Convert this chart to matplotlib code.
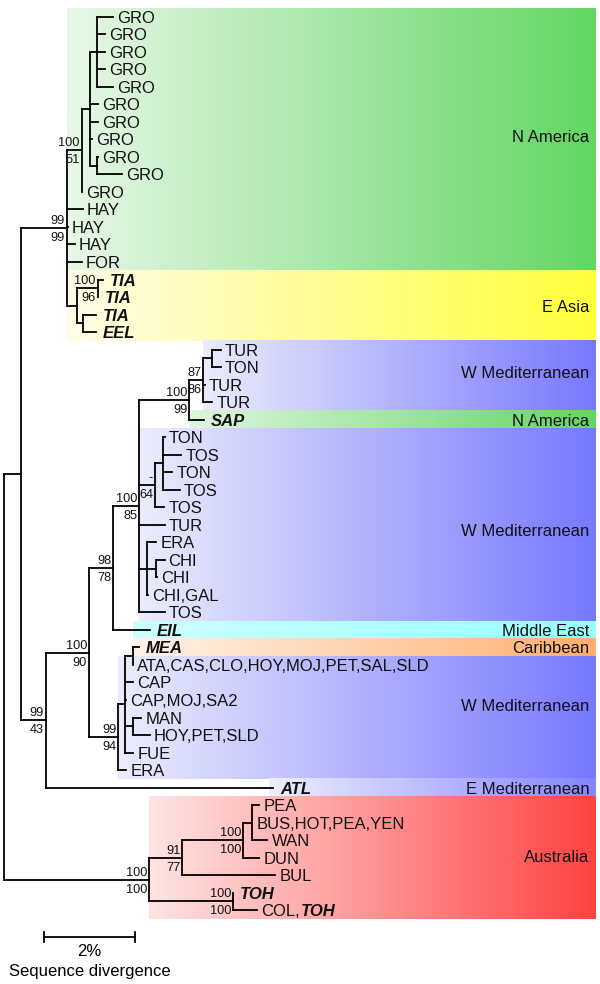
"""Phylogram with coloured geographic bands (recreated)."""
import re

import matplotlib
matplotlib.use("Agg")
import matplotlib.pyplot as plt
import numpy as np
from matplotlib.collections import LineCollection
from matplotlib.colors import to_rgb

plt.rcParams["font.family"] = ["Liberation Sans", "DejaVu Sans"]


def node(length, support, *kids):
    return {"len": length, "sup": support, "kids": list(kids)}


def leaf(name, length):
    # parts between *...* are drawn bold italic
    return {"len": length, "name": name}


# branch lengths in % sequence divergence, supports as (above, below)
tree = node(0, None,
    node(0.37, None,
        node(1.01, ("99", "99"),
            node(0.33, ("100", "51"),
                node(0.18, None,
                    node(0.15, None,
                         leaf("GRO", 0.35), leaf("GRO", 0.18), leaf("GRO", 0.18),
                         leaf("GRO", 0.18), leaf("GRO", 0.35)),
                    leaf("GRO", 0.18), leaf("GRO", 0.18), leaf("GRO", 0.04),
                    node(0.15, None, leaf("GRO", 0.02), leaf("GRO", 0.55))),
                leaf("GRO", 0.0)),
            leaf("HAY", 0.35), leaf("HAY", 0.02), leaf("HAY", 0.18), leaf("FOR", 0.33),
            node(0.22, None,
                node(0.46, ("100", "96"), leaf("*TIA*", 0.11), leaf("*TIA*", 0.0)),
                node(0.13, None, leaf("*TIA*", 0.29), leaf("*EEL*", 0.29)))),
        node(0.55, ("99", "43"),
            node(0.95, ("100", "90"),
                node(0.53, ("98", "78"),
                    node(0.57, ("100", "85"),
                        node(1.10, ("100", "99"),
                            node(0.31, ("87", "86"),
                                node(0.20, None, leaf("TUR", 0.18), leaf("TON", 0.18)),
                                leaf("TUR", 0.04), leaf("TUR", 0.20)),
                            leaf("*SAP*", 0.33)),
                        node(0.35, ("-", "64"),
                            node(0.18, None, leaf("TON", 0.04), leaf("TOS", 0.40),
                                 leaf("TON", 0.20), leaf("TOS", 0.37)),
                            leaf("TOS", 0.20)),
                        leaf("TUR", 0.57),
                        node(0.18, None,
                            leaf("ERA", 0.20),
                            node(0.18, None, leaf("CHI", 0.20), leaf("CHI", 0.04)),
                            leaf("CHI,GAL", 0.02)),
                        leaf("TOS", 0.57)),
                    leaf("*EIL*", 0.81)),
                node(0.64, ("99", "94"),
                    node(0.15, None,
                        node(0.18, None, leaf("*MEA*", 0.13),
                             leaf("ATA,CAS,CLO,HOY,MOJ,PET,SAL,SLD", 0.0)),
                        leaf("CAP", 0.18), leaf("CAP,MOJ,SA2", 0.02),
                        node(0.18, None, leaf("MAN", 0.18), leaf("HOY,PET,SLD", 0.37)),
                        leaf("FUE", 0.18)),
                    leaf("ERA", 0.18))),
            leaf("*ATL*", 4.99))),
    node(3.19, ("100", "100"),
        node(0.73, ("91", "77"),
            node(1.34, ("100", "100"),
                node(0.20, None, leaf("PEA", 0.15), leaf("BUS,HOT,PEA,YEN", 0.0),
                     leaf("WAN", 0.33)),
                leaf("DUN", 0.35)),
            leaf("BUL", 2.04)),
        node(1.85, ("100", "100"),
            leaf("*TOH*", 0.0), leaf("COL,*TOH*", 0.53))))

# geographic bands: leaf rows covered, start (% divergence), label row, colours
band_names = ["N America", "E Asia", "W Mediterranean", "N America", "W Mediterranean",
              "Middle East", "Caribbean", "W Mediterranean", "E Mediterranean", "Australia"]
band_rows = [(0, 14), (15, 18), (19, 22), (23, 23), (24, 34),
             (35, 35), (36, 36), (37, 43), (44, 44), (45, 51)]
band_start = [1.38, 1.38, 4.37, 4.07, 2.97, 2.84, 2.84, 2.51, 5.82, 3.19]
band_label_row = [6.8, 16.5, 20.3, 23, 29.3, 35, 36, 39.3, 44, 47.9]
band_light = ["#e8f7e8", "#fffde8", "#ececfc", "#dff5df", "#ececfc",
              "#ccffff", "#fff3ea", "#ececfc", "#eeeeff", "#ffe4e4"]
band_full = ["#63d663", "#ffff3a", "#7878ff", "#63d663", "#7878ff",
             "#99ffff", "#ffaf6e", "#7878ff", "#8585ff", "#ff4242"]
band_end = 13.0

scale_pct = 2

# layout: pixel geometry of the page
PX_PER_PCT = 45.5
ROW_PX = 17.52
ORIGIN_PX = 4
ROW0_PX = 16.7
W, H = 600, 984

segs, tips, sups = [], [], []
counter = [0]


def walk(n, x_parent):
    x = x_parent + n["len"]
    if "name" in n:
        y = counter[0]
        counter[0] += 1
        tips.append((x, y, n["name"]))
    else:
        ys = [walk(k, x) for k in n["kids"]]
        y = (ys[0] + ys[-1]) / 2
        segs.append([(x, ys[0]), (x, ys[-1])])
        if n["sup"]:
            sups.append((x, y, n["sup"]))
    if n["len"] > 0:
        segs.append([(x_parent, y), (x, y)])
    return y


walk(tree, 0.0)

fig = plt.figure(figsize=(W / 100, H / 100), dpi=100)
ax = fig.add_axes([0, 0, 1, 1])
ax.axis("off")

for name, (r0, r1), x0, lr, c0, c1 in zip(band_names, band_rows, band_start,
                                          band_label_row, band_light, band_full):
    t = np.linspace(0, 1, 256)[:, None]
    grad = (1 - t) * np.array(to_rgb(c0)) + t * np.array(to_rgb(c1))
    ax.imshow(grad[None, :, :], extent=(x0, band_end, r1 + 0.5, r0 - 0.5),
              aspect="auto", interpolation="bilinear", zorder=0)
    ax.annotate(name, (band_end, lr), xytext=(-6, -6), textcoords="offset pixels",
                ha="right", va="baseline", fontsize=12, color="#111111")

ax.add_collection(LineCollection(segs, colors="black", linewidths=1.3,
                                 capstyle="projecting", zorder=2))

ax.set_xlim(-ORIGIN_PX / PX_PER_PCT, (W - ORIGIN_PX) / PX_PER_PCT)
ax.set_ylim((H - ROW0_PX) / ROW_PX, -ROW0_PX / ROW_PX)

renderer = fig.canvas.get_renderer()
for x, y, name in tips:
    parts = [p for p in re.split(r"(\*[^*]+\*)", name) if p]
    off = 7 if parts[0].startswith("*") else 4
    for p in parts:
        bold = p.startswith("*")
        t = ax.annotate(p.strip("*"), (x, y), xytext=(off, -6), textcoords="offset pixels",
                        ha="left", va="baseline", fontsize=12, color="#111111",
                        fontweight="bold" if bold else "normal",
                        fontstyle="italic" if bold else "normal", zorder=3)
        off += t.get_window_extent(renderer).width + 1

for x, y, (top, bot) in sups:
    ax.annotate(top, (x, y), xytext=(-2, 4), textcoords="offset pixels",
                ha="right", va="baseline", fontsize=9.2, color="#111111", zorder=3)
    ax.annotate(bot, (x, y), xytext=(-2, -13), textcoords="offset pixels",
                ha="right", va="baseline", fontsize=9.2, color="#111111", zorder=3)

# scale bar
sb_x0 = 0.88
sb_y = 52.53
ax.plot([sb_x0, sb_x0 + scale_pct], [sb_y, sb_y], color="black", lw=1.3)
for xe in (sb_x0, sb_x0 + scale_pct):
    ax.plot([xe, xe], [sb_y - 0.28, sb_y + 0.28], color="black", lw=1.3)
ax.annotate(f"{scale_pct}%", (sb_x0 + scale_pct / 2, sb_y), xytext=(0, -19),
            textcoords="offset pixels", ha="center", va="baseline", fontsize=12)
ax.annotate("Sequence divergence", (sb_x0 + scale_pct / 2, sb_y), xytext=(0, -39),
            textcoords="offset pixels", ha="center", va="baseline", fontsize=12)

fig.savefig("out.png", dpi=100, facecolor="white")
plt.close(fig)
